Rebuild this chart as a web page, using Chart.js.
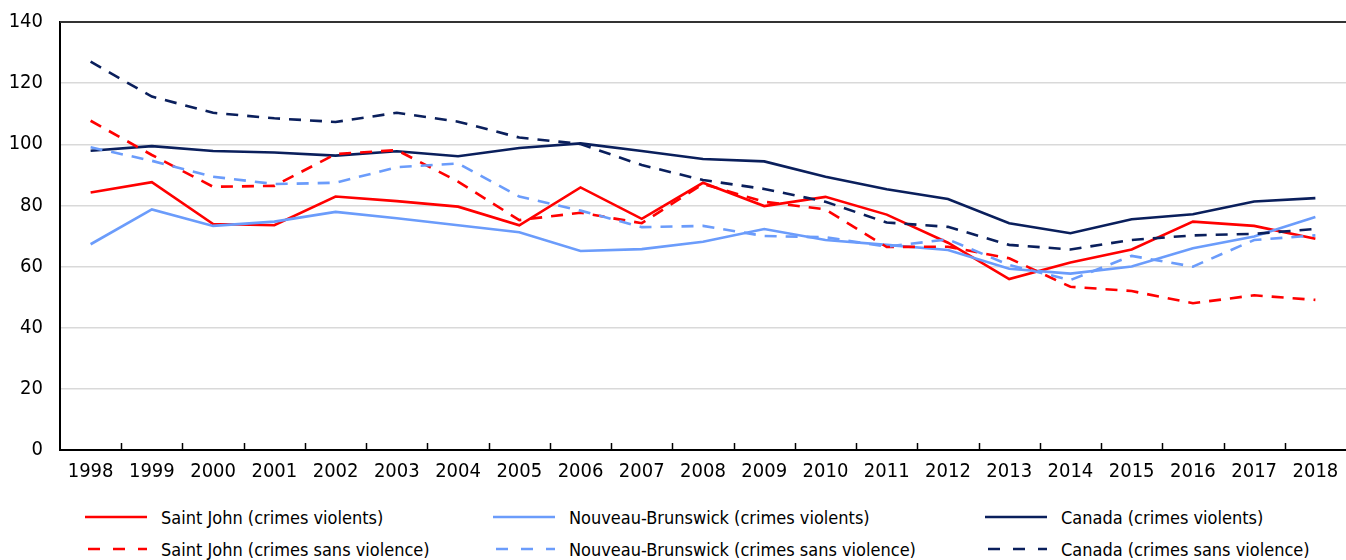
<!DOCTYPE html>
<html><head><meta charset="utf-8">
<script src="https://cdn.jsdelivr.net/npm/chart.js@4.4.0/dist/chart.umd.min.js"></script>
<style>
html,body{margin:0;padding:0;background:#fff;}
#wrap{position:relative;width:1346px;height:560px;overflow:hidden;}
#cvbox{position:absolute;left:0;top:0;width:1346px;height:490px;}
.leg{position:absolute;font-family:'Liberation Sans Narrow','Arial Narrow','DejaVu Sans Condensed',sans-serif;font-size:18px;color:#000;display:flex;align-items:center;white-space:nowrap;height:24px;}
.leg svg{margin-right:14px;}
</style></head><body>
<div id="wrap"><div id="cvbox"><canvas id="cv" width="1346" height="490"></canvas></div><div id="legend"></div></div>
<script>
const years = ['1998','1999','2000','2001','2002','2003','2004','2005','2006','2007','2008','2009','2010','2011','2012','2013','2014','2015','2016','2017','2018'];
const sjViolent    = [84.2,87.6,73.9,73.5,82.9,81.4,79.6,73.5,85.9,75.6,87.4,79.8,82.8,77.0,67.8,55.9,61.3,65.6,74.7,73.3,69.1];
const nbViolent    = [67.3,78.7,73.3,74.7,77.9,75.8,73.5,71.2,65.1,65.7,68.1,72.3,68.7,67.1,65.4,59.3,57.7,60.0,66.0,69.8,76.2];
const caViolent    = [97.9,99.4,97.8,97.3,96.3,97.7,96.1,98.8,100.3,97.8,95.2,94.4,89.4,85.3,82.1,74.2,70.9,75.5,77.1,81.3,82.4];
const sjNonViolent = [107.7,96.5,86.1,86.4,96.8,98.1,87.8,75.2,77.6,74.2,87.0,81.2,78.7,66.4,66.5,62.7,53.4,52.0,48.0,50.6,49.1];
const nbNonViolent = [99.0,94.6,89.4,87.0,87.4,92.5,93.7,82.9,78.3,72.9,73.3,70.0,69.6,66.5,68.9,60.5,55.6,63.5,60.0,68.7,70.2];
const caNonViolent = [127.0,115.6,110.3,108.5,107.3,110.3,107.4,102.2,100.1,93.2,88.3,85.4,81.2,74.4,73.0,67.1,65.6,68.7,70.2,70.7,72.3];
const yTicks = [0,20,40,60,80,100,120,140];
const seriesLabels = ['Saint John (crimes violents)','Nouveau-Brunswick (crimes violents)','Canada (crimes violents)',
  'Saint John (crimes sans violence)','Nouveau-Brunswick (crimes sans violence)','Canada (crimes sans violence)'];

const RED='#ff0000', LBLUE='#6b9cfb', NAVY='#0a1f5c';
const FONT = "'Liberation Sans Narrow','Arial Narrow','DejaVu Sans Condensed',sans-serif";
const DASH=[12,9];

function ds(label,data,color,dashed){
  return {label,data,borderColor:color,backgroundColor:color,borderWidth:2.6,pointRadius:0,tension:0,
    borderDash:dashed?DASH:[],fill:false,borderCapStyle:'butt',borderJoinStyle:'miter'};
}
const datasets=[
  ds(seriesLabels[5],caNonViolent,NAVY,true),
  ds(seriesLabels[4],nbNonViolent,LBLUE,true),
  ds(seriesLabels[3],sjNonViolent,RED,true),
  ds(seriesLabels[2],caViolent,NAVY,false),
  ds(seriesLabels[1],nbViolent,LBLUE,false),
  ds(seriesLabels[0],sjViolent,RED,false)
];

const framePlugin={id:'frame',afterDraw(chart){
  const ctx=chart.ctx,a=chart.chartArea,x=chart.scales.x;
  ctx.save();
  ctx.strokeStyle='#333';ctx.lineWidth=2;
  ctx.beginPath();ctx.moveTo(a.left,a.top);ctx.lineTo(a.right,a.top);ctx.stroke();
  ctx.strokeStyle='#000';ctx.lineWidth=1.5;
  const half=(x.getPixelForValue(1)-x.getPixelForValue(0))/2;
  for(let i=1;i<years.length;i++){
    const px=Math.round(x.getPixelForValue(i)-half)+0.5;
    ctx.beginPath();ctx.moveTo(px,a.bottom);ctx.lineTo(px,a.bottom-7);ctx.stroke();
  }
  ctx.restore();
}};

new Chart(document.getElementById('cv'),{
  type:'line',
  data:{labels:years,datasets},
  options:{
    responsive:false,animation:false,devicePixelRatio:1,
    layout:{padding:{top:22,right:0,left:0,bottom:0}},
    plugins:{legend:{display:false},tooltip:{enabled:false}},
    scales:{
      x:{offset:true,
        grid:{display:false,drawTicks:false},
        border:{display:true,color:'#000',width:2},
        ticks:{color:'#000',font:{family:FONT,size:20},padding:10,maxRotation:0,autoSkip:false},
        afterFit(s){s.height=40;s.paddingLeft=0;s.paddingRight=0;}
      },
      y:{min:0,max:140,
        afterBuildTicks(s){s.ticks=yTicks.map(v=>({value:v}));},
        grid:{color:'#d9d9d9',lineWidth:1.5,drawTicks:false},
        border:{display:true,color:'#000',width:2},
        ticks:{color:'#000',font:{family:FONT,size:20},padding:17},
        afterFit(s){s.width=60;s.paddingTop=0;s.paddingBottom=0;}
      }
    }
  },
  plugins:[framePlugin]
});

// HTML legend
const legItems=[
  {i:0,color:RED,dash:false,x:85,y:517},{i:1,color:LBLUE,dash:false,x:493,y:517},{i:2,color:NAVY,dash:false,x:985,y:517},
  {i:3,color:RED,dash:true,x:85,y:549},{i:4,color:LBLUE,dash:true,x:493,y:549},{i:5,color:NAVY,dash:true,x:985,y:549}
];
const L=document.getElementById('legend');
legItems.forEach(it=>{
  const d=document.createElement('div');d.className='leg';
  d.style.left=it.x+'px';d.style.top=(it.y-12)+'px';
  d.innerHTML='<svg width="62" height="6"><line x1="0" y1="3" x2="62" y2="3" stroke="'+it.color+'" stroke-width="2.6"'+
    (it.dash?' stroke-dasharray="12,13" stroke-dashoffset="-3"':'')+'/></svg><span>'+seriesLabels[it.i]+'</span>';
  L.appendChild(d);
});
</script>
</body></html>
